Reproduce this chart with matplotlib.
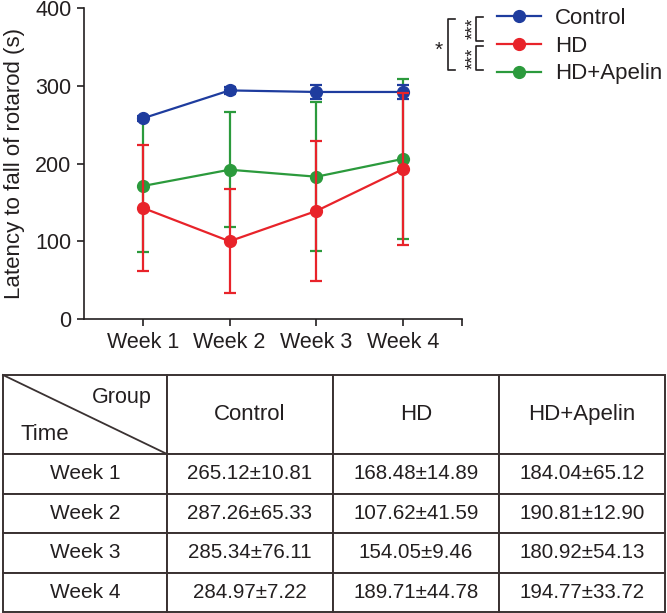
import matplotlib
matplotlib.use("Agg")
import matplotlib.pyplot as plt
from matplotlib.lines import Line2D
from matplotlib.ticker import FixedLocator

plt.rcParams['font.family'] = ['Liberation Sans', 'DejaVu Sans']

# ---------------- data ----------------
weeks = ["Week 1", "Week 2", "Week 3", "Week 4"]
groups = ["Control", "HD", "HD+Apelin"]
control_mean = [258, 294, 292, 292]
control_err = [3, 4, 9, 9]
hd_mean = [143, 100, 139, 193]
hd_err = [81, 67, 90, 98]
apelin_mean = [171, 192, 183, 206]
apelin_err = [85, 74, 96, 103]

table_rows = ["Week 1", "Week 2", "Week 3", "Week 4"]
table_control = ["265.12±10.81", "287.26±65.33", "285.34±76.11", "284.97±7.22"]
table_hd = ["168.48±14.89", "107.62±41.59", "154.05±9.46", "189.71±44.78"]
table_apelin = ["184.04±65.12", "190.81±12.90", "180.92±54.13", "194.77±33.72"]

# ---------------- figure ----------------
W, H = 667, 613
fig = plt.figure(figsize=(W / 100, H / 100), dpi=100)
ink = "#231f20"
c_blue = "#1e3c9e"
c_red = "#e8232a"
c_green = "#2b9a3c"


def fx(x):
    return x / W


def fy(y):
    return 1 - y / H


ax = fig.add_axes([fx(84), fy(319), (462 - 84) / W, (319 - 8) / H])
x = list(range(1, len(weeks) + 1))

series = [
    (apelin_mean, apelin_err, c_green, "HD+Apelin", 2),
    (control_mean, control_err, c_blue, "Control", 3),
    (hd_mean, hd_err, c_red, "HD", 4),
]
handles = {}
for mean, err, col, lab, z in series:
    cont = ax.errorbar(x, mean, yerr=err, color=col, marker='o', markersize=8.5,
                       linewidth=1.6, elinewidth=1.6, capsize=4, capthick=1.6,
                       zorder=z, label=lab)
    handles[lab] = cont.lines[0]

ax.set_xlim(0.325, 4.675)
ax.set_ylim(0, 400)
ax.set_yticks([0, 100, 200, 300, 400])
ax.set_xticks(x)
ax.set_xticklabels(weeks)
ax.xaxis.set_minor_locator(FixedLocator([4.675]))
for s in ['top', 'right']:
    ax.spines[s].set_visible(False)
for s in ['left', 'bottom']:
    ax.spines[s].set_linewidth(1.2)
    ax.spines[s].set_color(ink)
ax.tick_params(axis='both', which='both', direction='out', length=5, width=1.2,
               colors=ink, labelsize=15.5, pad=4)
ax.tick_params(axis='x', which='minor', length=5)
ax.set_ylabel("Latency to fall of rotarod (s)", fontsize=16, color=ink)
ax.yaxis.set_label_coords(-0.155, 0.5)

# legend
leg = fig.legend([handles[g] for g in groups], groups, loc='upper left',
                 bbox_to_anchor=(fx(497), fy(8)), frameon=False, borderpad=0,
                 borderaxespad=0, handlelength=2.0, handletextpad=0.6,
                 labelspacing=0.3, fontsize=16)
for t in leg.get_texts():
    t.set_color(ink)


# significance brackets
def bracket(xv, y0, y1, w):
    fig.add_artist(Line2D([fx(xv + w), fx(xv), fx(xv), fx(xv + w)],
                          [fy(y0), fy(y0), fy(y1), fy(y1)],
                          color=ink, lw=1.2, transform=fig.transFigure))


bracket(448, 19, 70, 7)
bracket(476, 17, 41, 7)
bracket(476, 46, 70, 7)

# single star, glyph centred at (439, 44)
s1 = 15
fig.text(fx(439), fy(44 + 0.575 * s1 * 100 / 72), "*", fontsize=s1,
         ha='center', va='baseline', color=ink)
# vertical stacks of three stars
s3 = 13
for yc in (28, 58):
    fig.text(fx(468 + 0.575 * s3 * 100 / 72), fy(yc), "***", fontsize=s3,
             rotation=90, rotation_mode='anchor', ha='center', va='baseline',
             color=ink)

# ---------------- table ----------------
tax = fig.add_axes([fx(3), fy(612), (665 - 3) / W, (612 - 375) / H])
tax.set_axis_off()
tax.set_xlim(0, 1)
tax.set_ylim(0, 1)
cell_text = [["", groups[0], groups[1], groups[2]]]
for i in range(len(table_rows)):
    cell_text.append([table_rows[i], table_control[i], table_hd[i], table_apelin[i]])
tbl = tax.table(cellText=cell_text, cellLoc='center', bbox=[0, 0, 1, 1])
tbl.auto_set_font_size(False)
col_w = [164, 166, 166, 166]
row_h = [79] + [39.5] * len(table_rows)
for (r, c), cell in tbl.get_celld().items():
    cell.set_width(col_w[c])
    cell.set_height(row_h[r])
    cell.set_linewidth(1.4)
    cell.set_edgecolor("#3a3232")
    t = cell.get_text()
    t.set_color(ink)
    if r == 0:
        t.set_fontsize(16)
    elif c == 0:
        t.set_fontsize(15)
    else:
        t.set_fontsize(14.8)
# diagonal in corner cell
cw = col_w[0] / sum(col_w)
rh = row_h[0] / sum(row_h)
tax.plot([0, cw], [1, 1 - rh], color="#3a3232", lw=1.3, clip_on=False, zorder=5)
tax.text(0.225, 0.905, "Group", fontsize=15.5, ha='right', va='center', color=ink)
tax.text(0.027, 0.75, "Time", fontsize=16, ha='left', va='center', color=ink)

fig.savefig("out.png", dpi=100)
